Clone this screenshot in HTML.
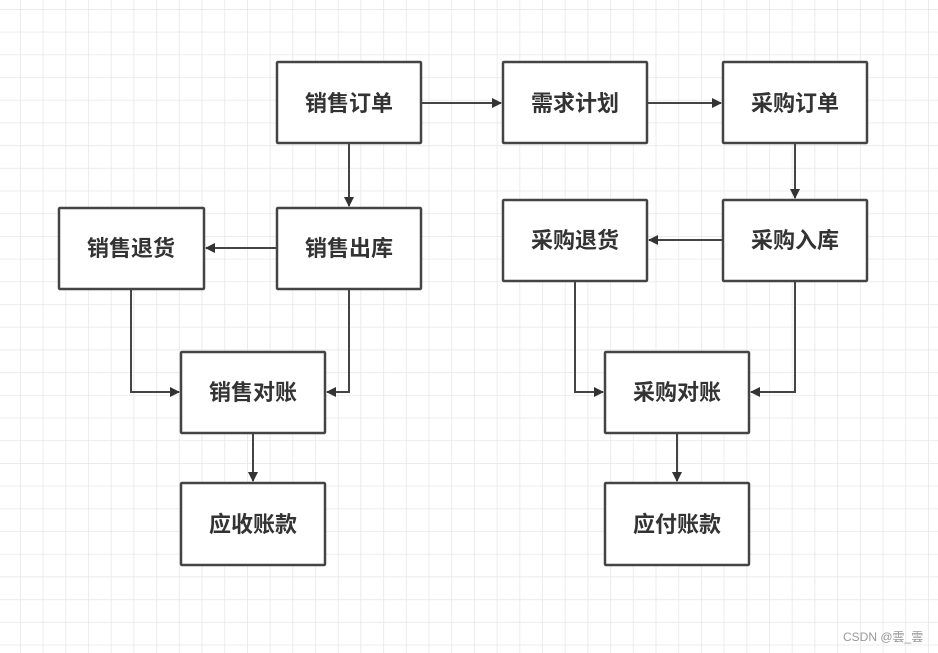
<!DOCTYPE html>
<html><head><meta charset="utf-8"><style>
html,body{margin:0;padding:0;background:#fff;}
svg{display:block;}
text{font-family:"Liberation Sans","Noto Sans CJK SC",sans-serif;font-weight:bold;font-size:22px;fill:#333;}
</style></head><body>
<svg width="938" height="653" viewBox="0 0 938 653" xmlns="http://www.w3.org/2000/svg">
<defs>
<pattern id="g" x="20" y="9" width="22.7" height="22.7" patternUnits="userSpaceOnUse">
<path d="M0 0V22.7M0 0H22.7" stroke="#e6e6e6" stroke-width="1.5" fill="none"/>
</pattern>
<marker id="a" markerWidth="10" markerHeight="10" refX="9" refY="5" orient="auto" markerUnits="userSpaceOnUse">
<path d="M0 0L10 5L0 10z" fill="#333"/>
</marker>
</defs>
<rect width="938" height="653" fill="#fff"/>
<rect width="938" height="653" fill="url(#g)"/>
<g stroke="#444" stroke-width="2" fill="none">
<path d="M421 103H501" marker-end="url(#a)"/>
<path d="M647 103H721" marker-end="url(#a)"/>
<path d="M795 143V198" marker-end="url(#a)"/>
<path d="M723 240H649" marker-end="url(#a)"/>
<path d="M575 281V392H603" marker-end="url(#a)"/>
<path d="M795 281V392H751" marker-end="url(#a)"/>
<path d="M677 433V481" marker-end="url(#a)"/>
<path d="M349 143V206" marker-end="url(#a)"/>
<path d="M277 248H206" marker-end="url(#a)"/>
<path d="M131 289V392H179" marker-end="url(#a)"/>
<path d="M349 289V392H327" marker-end="url(#a)"/>
<path d="M253 433V481" marker-end="url(#a)"/>
</g>
<g stroke="#444" stroke-width="2.5" fill="#fff">
<rect x="277" y="62" width="144" height="81" rx="1"/>
<rect x="277" y="208" width="144" height="81" rx="1"/>
<rect x="59" y="208" width="145" height="81" rx="1"/>
<rect x="181" y="352" width="144" height="81" rx="1"/>
<rect x="181" y="483" width="144" height="82" rx="1"/>
<rect x="503" y="62" width="144" height="81" rx="1"/>
<rect x="723" y="62" width="144" height="81" rx="1"/>
<rect x="723" y="200" width="144" height="81" rx="1"/>
<rect x="503" y="200" width="144" height="81" rx="1"/>
<rect x="605" y="352" width="144" height="81" rx="1"/>
<rect x="605" y="483" width="144" height="82" rx="1"/>
</g>
<g text-anchor="middle">
<text x="349" y="111">销售订单</text>
<text x="349" y="256">销售出库</text>
<text x="131" y="256">销售退货</text>
<text x="253" y="400">销售对账</text>
<text x="253" y="532">应收账款</text>
<text x="575" y="111">需求计划</text>
<text x="795" y="111">采购订单</text>
<text x="795" y="248">采购入库</text>
<text x="575" y="248">采购退货</text>
<text x="677" y="400">采购对账</text>
<text x="677" y="532">应付账款</text>
</g>
<text x="843" y="641" style="font-size:12px;font-weight:normal;fill:#999">CSDN @雲_雲</text>
</svg>
</body></html>
